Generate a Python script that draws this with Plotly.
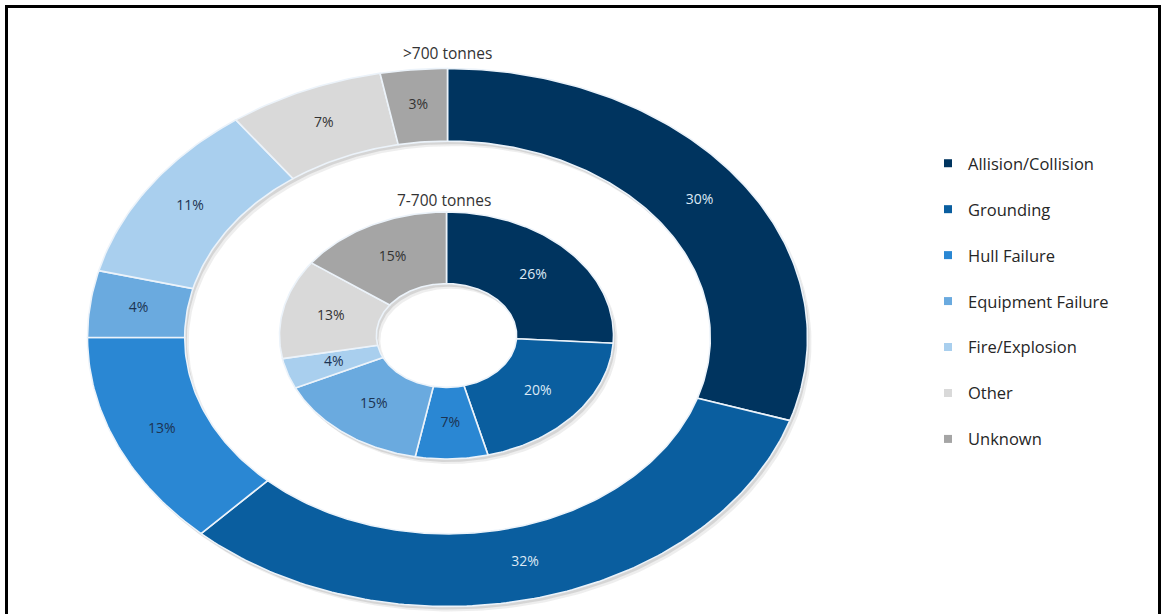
import numpy as np
import plotly.graph_objects as go

# Spill causes and their percentage share, by spill size
categories = ["Allision/Collision", "Grounding", "Hull Failure", "Equipment Failure",
              "Fire/Explosion", "Other", "Unknown"]
share_over_700 = [30, 32, 13, 4, 11, 7, 3]
share_7_to_700 = [26, 20, 7, 15, 4, 13, 15]
ring_titles = [">700 tonnes", "7-700 tonnes"]

# Styling
colors = ["#00345f", "#0a5e9f", "#2a87d3", "#6aaadf", "#a9cfee", "#d9d9d9", "#a5a5a5"]
text_colors = ["#dde9f5", "#dde9f5", "#1c3352", "#1c3352", "#1c3352", "#333333", "#333333"]
edge_color = "rgba(236,243,250,1)"
FONT = "Open Sans"
W, H = 1162, 614

# Ring geometry in page pixels: centre, radii, hole fraction
OUTER = dict(cx=447.5, cy=337.5, rx=360, ry=269, hole=0.73)
INNER = dict(cx=446.5, cy=335.5, rx=167, ry=123.5, hole=0.42)


def arc(g, r, a0, a1, n):
    t = np.linspace(a0, a1, n) * 2 * np.pi
    return g["cx"] + r * g["rx"] * np.sin(t), g["cy"] - r * g["ry"] * np.cos(t)


def ring_traces(values, g):
    total = float(sum(values))
    fr = np.array(values) / total
    starts = np.concatenate([[0], np.cumsum(fr)[:-1]])
    traces = []
    # soft drop shadow under the ring
    sx_o, sy_o = arc(g, 1.0, 0, 1, 400)
    sx_i, sy_i = arc(g, g["hole"], 1, 0, 400)
    for dx, dy, op in [(4, 5, 0.10), (2, 3, 0.16)]:
        traces.append(go.Scatter(
            x=np.concatenate([sx_o, sx_i, sx_o[:1]]) + dx,
            y=np.concatenate([sy_o, sy_i, sy_o[:1]]) + dy,
            mode="lines", fill="toself", line=dict(width=0),
            fillcolor=f"rgba(90,90,90,{op})", hoverinfo="skip", showlegend=False))
    lx, ly, lt, lc = [], [], [], []
    for i, (s, f) in enumerate(zip(starts, fr)):
        n = max(int(400 * f), 6)
        xo, yo = arc(g, 1.0, s, s + f, n)
        xi, yi = arc(g, g["hole"], s + f, s, n)
        traces.append(go.Scatter(
            x=np.concatenate([xo, xi, xo[:1]]), y=np.concatenate([yo, yi, yo[:1]]),
            mode="lines", fill="toself", fillcolor=colors[i],
            line=dict(color=edge_color, width=1.6),
            name=categories[i], hoverinfo="name", showlegend=False))
        mx, my = arc(g, (1 + g["hole"]) / 2, s + f / 2, s + f / 2, 1)
        lx.append(mx[0]); ly.append(my[0])
        lt.append(f"{values[i]}%"); lc.append(text_colors[i])
    traces.append(go.Scatter(
        x=lx, y=ly, mode="text", text=lt,
        textfont=dict(family=FONT, size=14, color=lc),
        hoverinfo="skip", showlegend=False))
    return traces


fig = go.Figure()
for tr in ring_traces(share_over_700, OUTER) + ring_traces(share_7_to_700, INNER):
    fig.add_trace(tr)

# legend entries
for name, col in zip(categories, colors):
    fig.add_trace(go.Scatter(
        x=[None], y=[None], mode="markers", name=name, legendgroup=name,
        marker=dict(symbol="square", size=8, color=col)))

annotations = [
    dict(x=447, y=53, text=ring_titles[0]),
    dict(x=444, y=200, text=ring_titles[1]),
]
for a in annotations:
    a.update(xref="x", yref="y", showarrow=False,
             font=dict(family=FONT, size=15.5, color="#333333"))

frame = dict(type="line", xref="x", yref="y", line=dict(color="black", width=3))
shapes = [
    dict(frame, x0=6.5, x1=6.5, y0=5, y1=H),
    dict(frame, x0=5, x1=1161, y0=6.5, y1=6.5),
    dict(frame, x0=1159.5, x1=1159.5, y0=5, y1=H),
]

fig.update_layout(
    width=W, height=H,
    margin=dict(l=0, r=0, t=0, b=0),
    paper_bgcolor="white", plot_bgcolor="white",
    xaxis=dict(range=[0, W], visible=False, fixedrange=True),
    yaxis=dict(range=[H, 0], visible=False, fixedrange=True),
    annotations=annotations,
    shapes=shapes,
    showlegend=True,
    legend=dict(x=928 / W, y=1 - 146 / H, xanchor="left", yanchor="top",
                font=dict(family=FONT, size=16.5, color="#262626"),
                tracegroupgap=21.5, bgcolor="rgba(0,0,0,0)"),
)

fig.write_html("out.html")
